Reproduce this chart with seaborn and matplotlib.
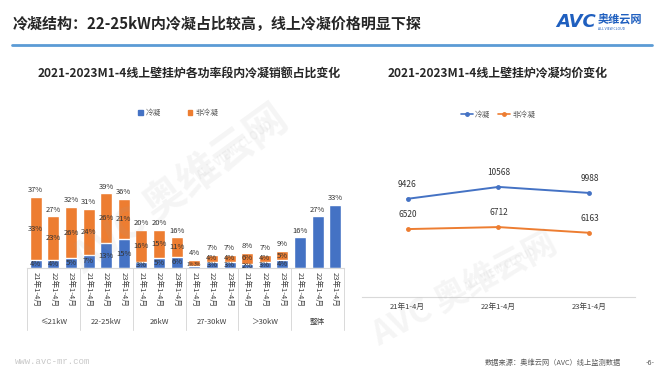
import numpy as np
import pandas as pd
import matplotlib
matplotlib.use("Agg")
import matplotlib.pyplot as plt
import matplotlib.transforms as mtransforms
from matplotlib.patches import Patch
from matplotlib.lines import Line2D
import seaborn as sns

sns.set_theme(style="white")
plt.rcParams['font.family'] = ['Noto Sans CJK SC', 'DejaVu Sans']
plt.rcParams['axes.unicode_minus'] = False

# %% data
groups = ['≤21kW', '22-25kW', '26kW', '27-30kW', '＞30kW', '整体']
periods = ['21年1-4月', '22年1-4月', '23年1-4月']
cond_share = [4, 4, 5, 7, 13, 15, 3, 5, 6, 1, 3, 3, 2, 3, 4, 16, 27, 33]
noncond_share = [33, 23, 26, 24, 26, 21, 16, 15, 11, 3, 4, 4, 6, 4, 5, 0, 0, 0]
total_share = [37, 27, 32, 31, 39, 36, 20, 20, 16, 4, 7, 7, 8, 7, 9, 16, 27, 33]

price_cond = [9426, 10568, 9988]
price_noncond = [6520, 6712, 6163]

blue = '#4472C4'
orange = '#ED7D31'
txt = '#333333'

df = pd.DataFrame({
    'idx': range(len(total_share)),
    'group': np.repeat(groups, 3),
    'period': periods * len(groups),
    'cond': cond_share,
    'noncond': noncond_share,
    'total': total_share,
})

fig = plt.figure(figsize=(6.66, 3.74), dpi=100)

# %% header
fig.text(13/666, 1-24/374, '冷凝结构：22-25kW内冷凝占比较高，线上冷凝价格明显下探',
         fontsize=10.8, fontweight='bold', color='#262626', va='center', ha='left')
fig.add_artist(Line2D([12/666, 652/666], [1-45/374, 1-45/374], color='#5B9BD5', lw=2))
fig.text(556/666, 1-22/374, 'AVC', fontsize=13, fontweight='bold', style='italic',
         color='#1F5FBF', va='center', ha='left', family=['DejaVu Sans'])
fig.text(598/666, 1-20/374, '奥维云网', fontsize=8, fontweight='bold',
         color='#1F5FBF', va='center', ha='left')
fig.text(598/666, 1-29/374, 'ALL VIEW CLOUD', fontsize=2.5, color='#1F5FBF',
         va='center', ha='left')

# %% watermarks
wm = dict(color='#a0a0a0', alpha=0.1, fontweight='bold', zorder=10, ha='center', va='center')
fig.text(180/666, 1-190/374, 'AVC 奥维云网', rotation=36, fontsize=30, style='italic', **wm)
fig.text(235/666, 1-150/374, 'ALL VIEW CLOUD', rotation=36, fontsize=8, **wm)
fig.text(465/666, 1-290/374, 'AVC 奥维云网', rotation=28, fontsize=24, style='italic', **wm)
fig.text(500/666, 1-270/374, 'ALL VIEW CLOUD', rotation=28, fontsize=7, **wm)

# %% left chart: stacked share bars
ax1 = fig.add_axes([27/666, 1-268/374, 317/666, 86/374])
ax1.set_facecolor('none')
sns.barplot(data=df, x='idx', y='total', color=orange, saturation=1, width=0.68, ax=ax1)
sns.barplot(data=df, x='idx', y='cond', color=blue, saturation=1, width=0.68, ax=ax1)
ax1.set_xlim(-0.5, len(df) - 0.5)
ax1.set_ylim(0, 45)
ax1.set_xlabel('')
ax1.set_ylabel('')
ax1.set_yticks([])
ax1.set_xticks(range(len(df)))
ax1.set_xticklabels(df['period'], rotation=270, fontsize=5.5, color='#404040', va='top')
ax1.tick_params(axis='x', length=0, pad=3)
for s in ['top', 'left', 'right']:
    ax1.spines[s].set_visible(False)
ax1.spines['bottom'].set_color('#d9d9d9')
ax1.spines['bottom'].set_linewidth(0.8)

for i, r in df.iterrows():
    ax1.text(i, r['total'] + 1.5, f"{r['total']}%", ha='center', va='bottom', fontsize=5.5, color=txt)
    if r['group'] == '整体':
        continue
    if r['total'] < 5:
        # tiny bar: put the two inner labels side by side
        ax1.text(i, r['total'] / 2, f"{r['cond']}%", ha='right', va='center', fontsize=3.6, color=txt)
        ax1.text(i, r['total'] / 2, f"{r['noncond']}%", ha='left', va='center', fontsize=3.6, color=txt)
        continue
    ax1.text(i, r['cond'] / 2, f"{r['cond']}%", ha='center', va='center', fontsize=5.5, color=txt)
    ax1.text(i, r['cond'] + (r['total'] - r['cond']) / 2, f"{r['noncond']}%",
             ha='center', va='center', fontsize=5.5, color=txt)

trans = mtransforms.blended_transform_factory(ax1.transData, ax1.transAxes)
for b in np.arange(-0.5, len(df), 3):
    ax1.plot([b, b], [0, -0.72], transform=trans, clip_on=False, color='#d9d9d9', lw=0.7)
for g, name in enumerate(groups):
    ax1.text(3 * g + 1, -0.63, name, transform=trans, ha='center', va='center',
             fontsize=5.5, color='#404040')

fig.text(189/666, 1-73/374, '2021-2023M1-4线上壁挂炉各功率段内冷凝销额占比变化',
         fontsize=8.6, fontweight='bold', color='#262626', ha='center', va='center')
fig.legend(handles=[Patch(color=blue, label='冷凝'), Patch(color=orange, label='非冷凝')],
           loc='center', bbox_to_anchor=(178/666, 1-113/374), ncol=2, frameon=False,
           fontsize=5.5, handlelength=0.6, handleheight=0.6, columnspacing=3.5,
           handletextpad=0.4, labelcolor='#595959')

# %% right chart: average price lines
ax2 = fig.add_axes([362/666, 1-297/374, 273/666, 125/374])
ax2.set_facecolor('none')
xs = np.arange(len(periods))
sns.lineplot(x=xs, y=price_cond, color=blue, marker='o', markersize=3.5,
             markeredgewidth=0, lw=1.4, ax=ax2)
sns.lineplot(x=xs, y=price_noncond, color=orange, marker='o', markersize=3.5,
             markeredgewidth=0, lw=1.4, ax=ax2)
for x, v in zip(xs, price_cond):
    ax2.annotate(str(v), (x, v), xytext=(0, 7), textcoords='offset points',
                 ha='center', va='bottom', fontsize=6, color=txt)
for x, v in zip(xs, price_noncond):
    ax2.annotate(str(v), (x, v), xytext=(0, 7), textcoords='offset points',
                 ha='center', va='bottom', fontsize=6, color=txt)
ax2.set_xlim(-0.5, 2.5)
ax2.set_ylim(0, 12000)
ax2.set_yticks([])
ax2.set_xticks(xs)
ax2.set_xticklabels(periods, fontsize=5.5, color='#404040')
ax2.tick_params(axis='x', length=0, pad=4)
for s in ['top', 'left', 'right']:
    ax2.spines[s].set_visible(False)
ax2.spines['bottom'].set_color('#d9d9d9')
ax2.spines['bottom'].set_linewidth(0.8)

fig.text(498/666, 1-73/374, '2021-2023M1-4线上壁挂炉冷凝均价变化',
         fontsize=8.6, fontweight='bold', color='#262626', ha='center', va='center')
fig.legend(handles=[Line2D([], [], color=blue, marker='o', markersize=2.5, lw=1.2, label='冷凝'),
                    Line2D([], [], color=orange, marker='o', markersize=2.5, lw=1.2, label='非冷凝')],
           loc='center', bbox_to_anchor=(498/666, 1-115/374), ncol=2, frameon=False,
           fontsize=5.5, handlelength=1.6, columnspacing=1.0, handletextpad=0.3,
           labelcolor='#595959')

# %% footer
fig.text(15/666, 1-362/374, 'www.avc-mr.com', fontsize=6.5, color='#c8c8c8',
         family=['Liberation Mono'], va='center')
fig.text(485/666, 1-363/374, '数据来源：奥维云网（AVC）线上监测数据', fontsize=5.2,
         color='#595959', va='center')
fig.text(650/666, 1-363/374, '-6-', fontsize=5.2, color='#595959', va='center', ha='center')

fig.savefig('out.png', dpi=100)
